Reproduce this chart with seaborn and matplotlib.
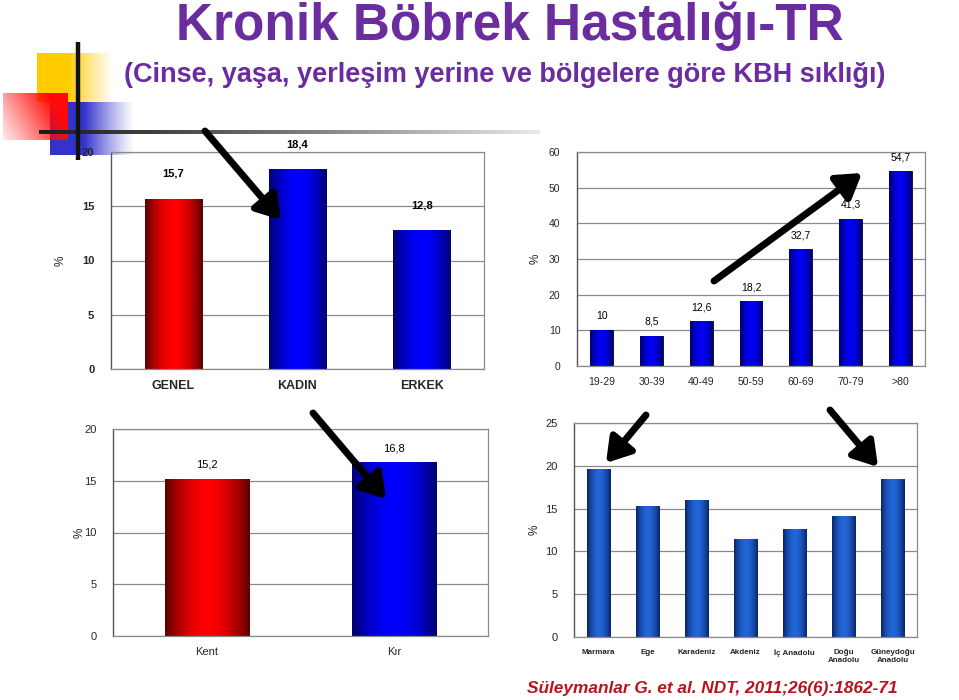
import numpy as np
import pandas as pd
import matplotlib
matplotlib.use("Agg")
import matplotlib.pyplot as plt
import matplotlib.colors as mcolors
import seaborn as sns

# ---------------- data ----------------
sex_cats = ["GENEL", "KADIN", "ERKEK"]
sex_vals = [15.7, 18.4, 12.8]

age_cats = ["19-29", "30-39", "40-49", "50-59", "60-69", "70-79", ">80"]
age_vals = [10, 8.5, 12.6, 18.2, 32.7, 41.3, 54.7]

place_cats = ["Kent", "Kır"]
place_vals = [15.2, 16.8]

region_cats = ["Marmara", "Ege", "Karadeniz", "Akdeniz", "İç Anadolu",
               "Doğu\nAnadolu", "Güneydoğu\nAnadolu"]
region_vals = [19.6, 15.3, 16.0, 11.4, 12.6, 14.1, 18.5]

title = "Kronik Böbrek Hastalığı-TR"
subtitle = "(Cinse, yaşa, yerleşim yerine ve bölgelere göre KBH sıklığı)"
citation = "Süleymanlar G. et al. NDT, 2011;26(6):1862-71"

# ---------------- style ----------------
sns.set_theme(style="white")
plt.rcParams["font.family"] = ["Liberation Sans", "DejaVu Sans"]

W, H = 959, 700
fig = plt.figure(figsize=(W / 100, H / 100), dpi=100)
fig.patch.set_facecolor("white")


def rect(l, r, t, b):
    return [l / W, 1 - b / H, (r - l) / W, (b - t) / H]


def fmt(v):
    return f"{v:g}".replace(".", ",")


PROFILE = 1 - np.abs(2 * np.linspace(0, 1, 256) - 1) ** 1.8


def paint_bars(ax, colour_pairs, edges):
    xl, yl = ax.get_xlim(), ax.get_ylim()
    for p, (d, b), e in zip(list(ax.patches), colour_pairs, edges):
        d = np.array(mcolors.to_rgb(d))
        b = np.array(mcolors.to_rgb(b))
        img = (d + (b - d) * PROFILE[:, None])[None, :, :]
        p.set_edgecolor(e)
        p.set_linewidth(0.6)
        im = ax.imshow(img, extent=[p.get_x(), p.get_x() + p.get_width(),
                                    p.get_y(), p.get_y() + p.get_height()],
                       aspect="auto", zorder=p.get_zorder() + 0.1,
                       interpolation="bilinear")
        im.set_clip_path(p)
    ax.set_xlim(xl)
    ax.set_ylim(yl)


def style_axes(ax, ymax, step, tick_size, tick_bold, xsize, xbold, lab_x):
    ax.set_ylim(0, ymax)
    ax.set_yticks(np.arange(0, ymax + 0.1, step))
    ax.yaxis.grid(True, color="#8a8a8a", linewidth=0.9)
    ax.set_axisbelow(True)
    for s in ["top", "right", "bottom"]:
        ax.spines[s].set_color("#8a8a8a")
        ax.spines[s].set_linewidth(0.9)
    ax.spines["left"].set_color("#555555")
    ax.spines["left"].set_linewidth(1.0)
    ax.tick_params(axis="y", length=4, width=0.9, color="#555555", pad=8,
                   labelsize=tick_size)
    ax.tick_params(axis="x", length=0, pad=8, labelsize=xsize)
    for lab in ax.get_yticklabels():
        lab.set_fontweight("bold" if tick_bold else "normal")
    for lab in ax.get_xticklabels():
        lab.set_fontweight("bold" if xbold else "normal")
    ax.set_xlabel("")
    ax.set_ylabel("%", fontsize=8.5, rotation=90)
    ax.yaxis.label.set_va("center")
    ax.yaxis.set_label_coords(lab_x, 0.5)


def value_labels(ax, vals, offset_pt, size, bold):
    for p, v in zip(ax.patches, vals):
        ax.annotate(fmt(v), (p.get_x() + p.get_width() / 2, p.get_height()),
                    xytext=(0, offset_pt), textcoords="offset points",
                    ha="center", va="center", fontsize=size,
                    fontweight="bold" if bold else "normal", color="black",
                    annotation_clip=False, zorder=5)


# ---------------- background decoration ----------------
bg = fig.add_axes([0, 0, 1, 1], zorder=0)
bg.axis("off")


def fade_rect(ax, x0, x1, y0, y1, color, mode):
    rgb = np.array(mcolors.to_rgb(color))
    nx, ny = 200, 100
    X, Y = np.meshgrid(np.linspace(0, 1, nx), np.linspace(0, 1, ny))
    if mode == "right":
        A = np.where(X < 0.4, 1, np.clip(1 - (X - 0.4) / 0.6, 0, 1) ** 1.2)
    else:  # diagonal: strong at top-right
        A = np.clip(0.1 + 1.1 * (X * 0.75 + (1 - Y) * 0.3), 0, 1) ** 1.1
    img = np.zeros((ny, nx, 4))
    img[..., :3] = rgb
    img[..., 3] = A
    ax.imshow(img, extent=[x0, x1, y1, y0], aspect="auto", zorder=1,
              interpolation="bilinear")


fade_rect(bg, 37, 115, 53, 102, "#FFCC00", "right")
fade_rect(bg, 50, 135, 102, 155, "#3333CC", "right")
fade_rect(bg, 3, 68, 93, 140, "#FF0A0A", "diag")

gx = np.linspace(0, 1, 300)
gcol = np.zeros((1, 300, 4))
gcol[0, :, :3] = (0.12 + 0.8 * gx ** 1.2)[:, None]
gcol[0, :, 3] = 1.0
bg.imshow(gcol, extent=[39, 540, 134, 130], aspect="auto", zorder=2)
bg.plot([78, 78], [42, 160], color="#111111", lw=3.2, solid_capstyle="butt",
        zorder=3)
bg.set_xlim(0, W)
bg.set_ylim(H, 0)

fig.text(510 / W, 1 - 40 / H, title, ha="center", va="baseline",
         fontsize=37, fontweight="bold", color="#6A2C9F")
fig.text(505 / W, 1 - 75 / H, subtitle, ha="center", va="center",
         fontsize=19.5, fontweight="bold", color="#6A2C9F")
fig.text(527 / W, 1 - 688 / H, citation, ha="left", va="center",
         fontsize=12.4, fontstyle="italic", fontweight="bold",
         color="#B8141E")

RED = ("#5A0000", "#FF0000")
BLUE = ("#00006E", "#0000FF")

# ---------------- chart 1: sex ----------------
ax1 = fig.add_axes(rect(111, 484, 152, 369), zorder=1)
ax1.patch.set_alpha(0)
df1 = pd.DataFrame({"cat": sex_cats, "val": sex_vals})
sns.barplot(data=df1, x="cat", y="val", hue="cat",
            palette=["#FF0000", "#0000FF", "#0000FF"], width=0.46,
            legend=False, ax=ax1, saturation=1)
style_axes(ax1, 20, 5, 8, True, 9, True, -0.135)
paint_bars(ax1, [RED, BLUE, BLUE], ["#300000", "#000040", "#000040"])
value_labels(ax1, sex_vals, 18, 8, True)

# ---------------- chart 2: age ----------------
ax2 = fig.add_axes(rect(577, 925, 152, 366), zorder=1)
ax2.patch.set_alpha(0)
df2 = pd.DataFrame({"cat": age_cats, "val": age_vals})
sns.barplot(data=df2, x="cat", y="val", color="#0000EE", width=0.46,
            ax=ax2, saturation=1)
style_axes(ax2, 60, 10, 7.5, False, 7.5, False, -0.12)
paint_bars(ax2, [("#000066", "#0000F5")] * len(age_vals),
           ["#000030"] * len(age_vals))
value_labels(ax2, age_vals, 10, 7.5, False)

# ---------------- chart 3: place ----------------
ax3 = fig.add_axes(rect(113, 488, 429, 636), zorder=1)
ax3.patch.set_alpha(0)
df3 = pd.DataFrame({"cat": place_cats, "val": place_vals})
sns.barplot(data=df3, x="cat", y="val", hue="cat",
            palette=["#FF0000", "#0000FF"], width=0.45, legend=False,
            ax=ax3, saturation=1)
style_axes(ax3, 20, 5, 8, False, 8, False, -0.09)
paint_bars(ax3, [RED, BLUE], ["#300000", "#000040"])
value_labels(ax3, place_vals, 10, 8, False)

# ---------------- chart 4: region ----------------
ax4 = fig.add_axes(rect(574, 917, 423, 637), zorder=1)
ax4.patch.set_alpha(0)
df4 = pd.DataFrame({"cat": region_cats, "val": region_vals})
sns.barplot(data=df4, x="cat", y="val", color="#1E5CC8", width=0.47,
            ax=ax4, saturation=1)
style_axes(ax4, 25, 5, 8, False, 5.8, True, -0.115)
paint_bars(ax4, [("#0A2466", "#2266D8")] * len(region_vals),
           ["#0A1A40"] * len(region_vals))
ax4.tick_params(axis="x", pad=9)

# ---------------- arrows overlay ----------------
ov = fig.add_axes([0, 0, 1, 1], zorder=10)
ov.axis("off")
ov.patch.set_alpha(0)
arrows = [((205, 131), (281, 220)),
          ((714, 281), (862, 173)),
          ((313, 413), (386, 499)),
          ((646, 415), (606, 463)),
          ((830, 410), (878, 467))]
for (x0, y0), (x1, y1) in arrows:
    ov.annotate("", xy=(x1, y1), xytext=(x0, y0),
                arrowprops=dict(arrowstyle="-|>,head_length=0.95,head_width=0.6",
                                lw=5, color="black", shrinkA=0, shrinkB=0,
                                mutation_scale=15))
ov.set_xlim(0, W)
ov.set_ylim(H, 0)

fig.savefig("out.png", dpi=100)
